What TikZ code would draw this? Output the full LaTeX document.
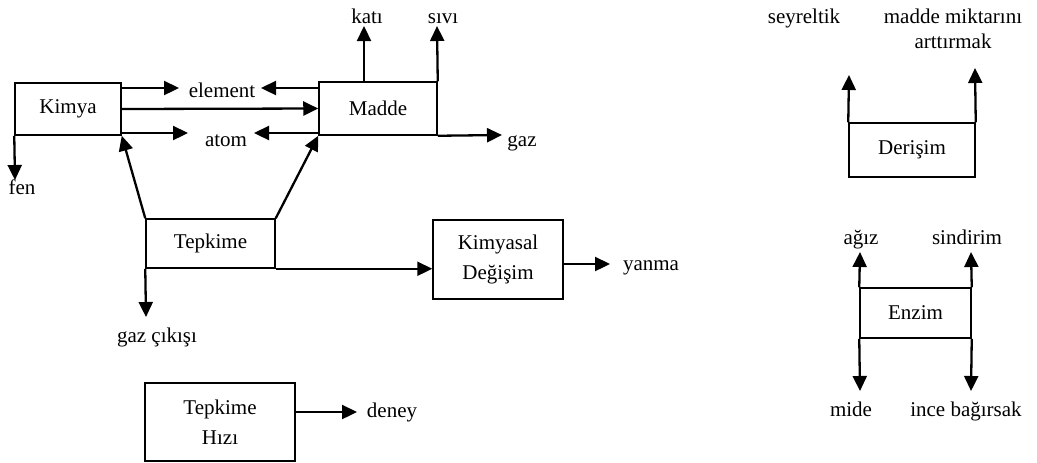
\documentclass[tikz,border=0pt]{standalone}
\usepackage{fontspec}
\setmainfont{Liberation Serif}
\usetikzlibrary{arrows.meta}

\begin{document}
\begin{tikzpicture}
	[x=0.5pt, y=-0.5pt,
	font=\fontsize{10.5}{15}\selectfont,
	block/.style ={rectangle, draw=black, line width=0.75pt, align=center, inner sep=0pt},
	line/.style ={draw, line width=1.15pt, -{Triangle[width=7pt,length=7.5pt]}},
	lbl/.style ={anchor=base, inner sep=0pt},
	]
	\useasboundingbox (0,0) rectangle (1037,462);

	% boxes
	\draw (68,109) node[block, minimum width=53pt, minimum height=26pt] (kimya) {Kimya};
	\draw (378,108.5) node[block, minimum width=59pt, minimum height=26.5pt] (madde) {Madde};
	\draw (210.5,243.5) node[block, minimum width=64.5pt, minimum height=24.5pt] (tepkime) {Tepkime};
	\draw (498,259.5) node[block, minimum width=65pt, minimum height=39.5pt] (kimyasal) {Kimyasal\\Değişim};
	\draw (220,422) node[block, minimum width=75pt, minimum height=39pt] (hizi) {Tepkime\\Hızı};
	\draw (912,150) node[block, minimum width=63pt, minimum height=27pt] (derisim) {Derişim};
	\draw (915.5,313) node[block, minimum width=55.5pt, minimum height=25pt] (enzim) {Enzim};

	% labels
	\draw (222,97) node[lbl] (element) {element};
	\draw (226,146) node[lbl] (atom) {atom};
	\draw (367,23) node[lbl] (kati) {katı};
	\draw (443,23) node[lbl] (sivi) {sıvı};
	\draw (522,146) node[lbl] (gaz) {gaz};
	\draw (22,194) node[lbl] (fen) {fen};
	\draw (157,342) node[lbl] (cikis) {gaz çıkışı};
	\draw (651,270) node[lbl] (yanma) {yanma};
	\draw (392,417) node[lbl] (deney) {deney};
	\draw (804,23) node[lbl] (seyreltik) {seyreltik};
	\draw (953,29) node[inner sep=0pt, align=center, font=\fontsize{10.5}{12.5}\selectfont] (miktar) {madde miktarını\\arttırmak};
	\draw (861,244) node[lbl] (agiz) {ağız};
	\draw (967,244) node[lbl] (sindirim) {sindirim};
	\draw (851,416) node[lbl] (mide) {mide};
	\draw (966,416) node[lbl] (ince) {ince bağırsak};

	% arrow tips
	\coordinate (elementL) at (179,88);
	\coordinate (elementR) at (261,88);
	\coordinate (atomL) at (188,133);
	\coordinate (atomR) at (254,133);
	\coordinate (katiT) at (364,26);
	\coordinate (siviT) at (437,26);
	\coordinate (gazT) at (502,135);
	\coordinate (fenT) at (15,180);
	\coordinate (cikisT) at (146,317);
	\coordinate (yanmaT) at (610,264);
	\coordinate (deneyT) at (357,412);
	\coordinate (seyrT) at (849,75);
	\coordinate (miktT) at (975,68);
	\coordinate (agizT) at (860,252);
	\coordinate (sindT) at (971,252);
	\coordinate (mideT) at (860,391);
	\coordinate (inceT) at (971,391);

	\path[line] (kimya.east |- elementL) -- (elementL);
	\path[line] (madde.west |- elementR) -- (elementR);
	\path[line] (kimya.east) -- (madde.west);
	\path[line] (kimya.east |- atomL) -- (atomL);
	\path[line] (madde.west |- atomR) -- (atomR);
	\path[line] (katiT |- madde.north) -- (katiT);
	\path[line] (madde.north east) -- (siviT);
	\path[line] (madde.south east) -- (gazT);
	\path[line] (kimya.south west) -- (fenT);
	\path[line] (tepkime.north west) -- (kimya.south east);
	\path[line] (tepkime.north east) -- (madde.south west);
	\path[line] (tepkime.south east) -- (tepkime.south east -| kimyasal.west);
	\path[line] (tepkime.south west) -- (cikisT);
	\path[line] (kimyasal.east |- yanmaT) -- (yanmaT);
	\path[line] (hizi.east |- deneyT) -- (deneyT);
	\path[line] (derisim.north west) -- (seyrT);
	\path[line] (derisim.north east) -- (miktT);
	\path[line] (enzim.north west) -- (agizT);
	\path[line] (enzim.north east) -- (sindT);
	\path[line] (enzim.south west) -- (mideT);
	\path[line] (enzim.south east) -- (inceT);
\end{tikzpicture}
\end{document}
